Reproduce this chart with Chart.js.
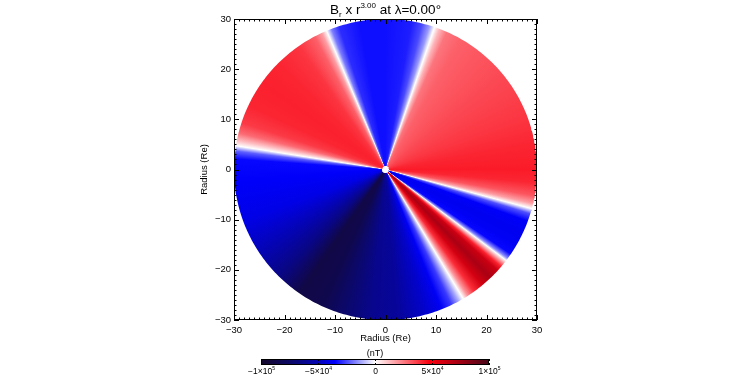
<!DOCTYPE html>
<html>
<head>
<meta charset="UTF-8">
<title>Br x r^3 at lambda=0</title>
<script src="https://cdn.jsdelivr.net/npm/chart.js@4.4.0/dist/chart.umd.min.js"></script>
<style>
  html, body { margin: 0; padding: 0; background: #fff; }
</style>
</head>
<body>
<canvas id="chart" width="750" height="375"></canvas>
<script>
// azimuth of each sample (deg, counter-clockwise from +x) and Br*r^3 there (nT)
const angles = [0, 10, 20, 30, 40, 50, 60, 66, 69, 71, 73, 76, 80, 90, 100, 108, 111, 113, 115, 118,
  125, 135, 145, 155, 162, 166, 169, 171, 173, 176, 185, 200, 215, 225, 235, 245, 255, 265, 275, 285,
  292, 296, 299, 301, 303, 306, 310, 314, 318, 320, 322, 323, 324, 326, 330, 335, 340, 343, 345, 347, 350, 355];
const values = [43000, 41000, 38000, 36000, 34000, 32000, 30000, 26000, 14000, 0, -14000, -25000, -31000, -33000, -33000, -29000, -18000, 0, 18000, 30000,
  38000, 41000, 42000, 41000, 37000, 28000, 12000, 0, -22000, -34000, -36000, -40000, -52000, -65000, -88000, -85000, -72000, -62000, -58000, -46000,
  -37000, -27000, -12000, 0, 20000, 40000, 60000, 72000, 62000, 42000, 14000, 0, -16000, -34000, -37000, -38000, -36000, -24000, 0, 18000, 32000, 41000];
const diskRadius = 30;
const holeRadius = 0.7;

const xTicks = [-30, -20, -10, 0, 10, 20, 30];
const xTickLabels = ['\u221230', '\u221220', '\u221210', '0', '10', '20', '30'];
const yTicks = [-30, -20, -10, 0, 10, 20, 30];
const yTickLabels = ['\u221230', '\u221220', '\u221210', '0', '10', '20', '30'];

const cbarValues = [-100000, -50000, 0, 50000, 100000];
const cbarLabels = [['\u22121\u00d710', '5'], ['\u22125\u00d710', '4'], ['0', ''], ['5\u00d710', '4'], ['1\u00d710', '5']];
const cbarMin = -100000, cbarMax = 100000;

const FONT = '"Liberation Sans", Arial, sans-serif';

// blue-white-red map with dark ends, position in [-1, 1]
const cmapStops = [
  [-1.0, [21, 8, 42]],
  [-0.75, [12, 8, 100]],
  [-0.5, [4, 4, 180]],
  [-0.35, [0, 0, 255]],
  [0.0, [255, 255, 255]],
  [0.48, [250, 0, 15]],
  [0.75, [160, 0, 20]],
  [1.0, [70, 8, 26]]
];

function cmap(v) {
  const t = Math.max(-1, Math.min(1, v / cbarMax));
  for (let i = 1; i < cmapStops.length; i++) {
    const [t1, c1] = cmapStops[i];
    const [t0, c0] = cmapStops[i - 1];
    if (t <= t1) {
      const f = (t - t0) / (t1 - t0);
      const c = c0.map((c, k) => Math.round(c + (c1[k] - c) * f));
      return `rgb(${c[0]},${c[1]},${c[2]})`;
    }
  }
  const c = cmapStops[cmapStops.length - 1][1];
  return `rgb(${c[0]},${c[1]},${c[2]})`;
}

function circle(r) {
  const pts = [];
  for (let a = 0; a <= 360; a++) {
    pts.push({x: r * Math.cos(a * Math.PI / 180), y: r * Math.sin(a * Math.PI / 180)});
  }
  return pts;
}

// conic gradient centred on the origin of the data axes
function diskFill(context) {
  const chart = context.chart;
  if (!chart.chartArea || !chart.scales.x) return '#ffffff';
  const cx = chart.scales.x.getPixelForValue(0);
  const cy = chart.scales.y.getPixelForValue(0);
  const g = chart.ctx.createConicGradient(0, cx, cy);
  const stops = angles.map((a, i) => [((360 - a) % 360) / 360, values[i]]);
  stops.sort((p, q) => p[0] - q[0]);
  stops.forEach(s => g.addColorStop(s[0], cmap(s[1])));
  g.addColorStop(1, cmap(values[0]));
  return g;
}

function drawRich(ctx, parts, cx, y, size) {
  // parts: [text, shift] shift -1 = subscript, 1 = superscript
  const fontFor = s => (s === 0 ? size : Math.round(size * 0.6)) + 'px ' + FONT;
  let w = 0;
  parts.forEach(([t, s]) => { ctx.font = fontFor(s); w += ctx.measureText(t).width; });
  let x = cx - w / 2;
  ctx.textAlign = 'left';
  ctx.textBaseline = 'alphabetic';
  parts.forEach(([t, s]) => {
    ctx.font = fontFor(s);
    const dy = s === 1 ? -size * 0.45 : (s === -1 ? size * 0.2 : 0);
    ctx.fillText(t, x, y + dy);
    x += ctx.measureText(t).width;
  });
}

const framePlugin = {
  id: 'frame',
  afterDraw(chart) {
    const {ctx, chartArea: a, scales: {x, y}} = chart;
    ctx.save();
    ctx.strokeStyle = '#000';
    ctx.lineWidth = 1;
    ctx.strokeRect(Math.round(a.left) + 0.5, Math.round(a.top) + 0.5,
      Math.round(a.right - a.left) - 1, Math.round(a.bottom - a.top) - 1);
    ctx.beginPath();
    for (let v = x.min; v <= x.max; v += 1) {
      const px = Math.round(x.getPixelForValue(v)) + 0.5;
      const len = xTicks.includes(v) ? 5 : 2.5;
      ctx.moveTo(px, a.bottom); ctx.lineTo(px, a.bottom - len);
      ctx.moveTo(px, a.top); ctx.lineTo(px, a.top + len);
    }
    for (let v = y.min; v <= y.max; v += 1) {
      const py = Math.round(y.getPixelForValue(v)) + 0.5;
      const len = yTicks.includes(v) ? 5 : 2.5;
      ctx.moveTo(a.left, py); ctx.lineTo(a.left + len, py);
      ctx.moveTo(a.right, py); ctx.lineTo(a.right - len, py);
    }
    ctx.stroke();

    // title
    ctx.fillStyle = '#000';
    drawRich(ctx, [['B', 0], ['r', -1], [' x r', 0], ['3.00', 1], [' at \u03bb=0.00\u00b0', 0]],
      (a.left + a.right) / 2, 14, 13.5);

    // colour bar
    const bx0 = 261, bx1 = 489, by0 = 359, by1 = 365;
    const lg = ctx.createLinearGradient(bx0, 0, bx1, 0);
    cmapStops.forEach(([t]) => lg.addColorStop((t + 1) / 2, cmap(t * cbarMax)));
    ctx.fillStyle = lg;
    ctx.fillRect(bx0, by0, bx1 - bx0, by1 - by0);
    ctx.strokeRect(bx0 + 0.5, by0 + 0.5, bx1 - bx0 - 1, by1 - by0 - 1);
    ctx.fillStyle = '#000';
    ctx.font = '9px ' + FONT;
    ctx.textAlign = 'center';
    ctx.fillText('(nT)', (bx0 + bx1) / 2, by0 - 3);
    ctx.beginPath();
    cbarValues.forEach((v, i) => {
      const px = Math.round(bx0 + (v - cbarMin) / (cbarMax - cbarMin) * (bx1 - bx0)) + 0.5;
      ctx.moveTo(px, by0); ctx.lineTo(px, by0 + 2);
      ctx.moveTo(px, by1); ctx.lineTo(px, by1 - 2);
      const [base, sup] = cbarLabels[i];
      drawRich(ctx, [[base, 0], [sup, 1]], px, by1 + 9, 8.5);
    });
    ctx.stroke();
    ctx.restore();
  }
};

new Chart(document.getElementById('chart'), {
  type: 'scatter',
  data: {
    datasets: [
      {
        label: 'hole',
        data: circle(holeRadius),
        showLine: true,
        fill: 'shape',
        backgroundColor: '#ffffff',
        borderWidth: 0,
        pointRadius: 0
      },
      {
        label: 'Br x r^3',
        data: circle(diskRadius),
        showLine: true,
        fill: 'shape',
        backgroundColor: diskFill,
        borderWidth: 0,
        pointRadius: 0
      }
    ]
  },
  options: {
    responsive: false,
    animation: false,
    devicePixelRatio: 1,
    layout: { padding: { left: 196, right: 213, top: 19, bottom: 31 } },
    plugins: {
      legend: { display: false },
      tooltip: { enabled: false }
    },
    scales: {
      x: {
        type: 'linear', min: -30, max: 30,
        afterBuildTicks: s => { s.ticks = xTicks.map(v => ({value: v})); },
        afterFit: s => { s.height = 24; },
        grid: { display: false, drawTicks: false },
        border: { display: false },
        ticks: { padding: 5, color: '#000', font: { family: FONT, size: 9.5 },
          callback: (v) => xTickLabels[xTicks.indexOf(v)] },
        title: { display: true, text: 'Radius (Re)', color: '#000', font: { family: FONT, size: 9.5 }, padding: 0 }
      },
      y: {
        type: 'linear', min: -30, max: 30,
        afterBuildTicks: s => { s.ticks = yTicks.map(v => ({value: v})); },
        afterFit: s => { s.width = 38; },
        grid: { display: false, drawTicks: false },
        border: { display: false },
        ticks: { padding: 3, color: '#000', font: { family: FONT, size: 9.5 },
          callback: (v) => yTickLabels[yTicks.indexOf(v)] },
        title: { display: true, text: 'Radius (Re)', color: '#000', font: { family: FONT, size: 9.5 }, padding: { top: 3, bottom: 0 } }
      }
    }
  },
  plugins: [framePlugin]
});
</script>
</body>
</html>
